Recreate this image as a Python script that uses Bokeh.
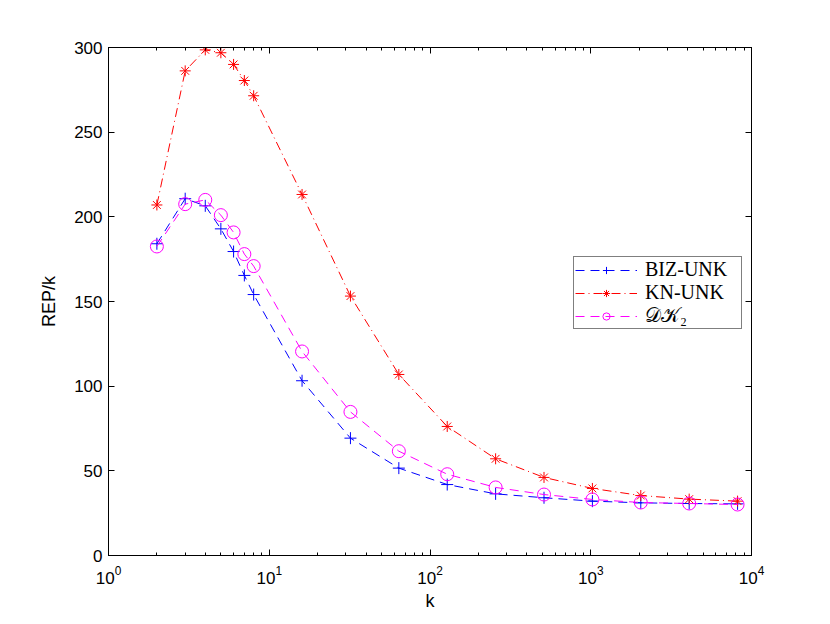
from bokeh.plotting import figure
from bokeh.models import (LogAxis, LinearAxis, FixedTicker, LogTicker, Range1d,
                          Legend, LegendItem)
from bokeh.embed import file_html
from bokeh.resources import INLINE

k = [2, 3, 4, 5, 6, 7, 8, 16, 32, 64, 128, 256, 512, 1024, 2048, 4096, 8192]
biz_unk = [184.1, 210.7, 206.5, 192.9, 179.5, 165.4, 154.1, 103.2, 69.3, 51.6,
           41.9, 36.4, 34.1, 32.1, 31.1, 30.7, 30.5]
kn_unk = [207.0, 286.2, 298.6, 296.9, 290.0, 280.5, 271.5, 213.2, 153.2, 106.9,
          76.2, 57.1, 46.1, 39.6, 35.4, 33.3, 32.1]
dk2 = [182.5, 207.5, 210.0, 201.0, 190.8, 178.0, 170.9, 120.5, 84.8, 61.6,
       48.0, 40.2, 36.0, 33.1, 31.3, 30.7, 30.1]
y_ticks = [0, 50, 100, 150, 200, 250, 300]
series_labels = ["BIZ-UNK", "KN-UNK", "\U0001D49F\U0001D4A6\u2082"]

FONT = "Liberation Sans"

p = figure(width=830, height=624, x_axis_type="log", output_backend="svg",
           toolbar_location=None, x_range=Range1d(1, 10000), y_range=Range1d(0, 300),
           min_border_left=108, min_border_right=79, min_border_top=47,
           min_border_bottom=69)
p.xgrid.visible = False
p.ygrid.visible = False
p.outline_line_color = "black"
p.outline_line_width = 1
p.background_fill_color = "white"
p.border_fill_color = "white"

# main renderers
r1l = p.line(k, biz_unk, line_color="#0000ff", line_width=1, line_dash="9 6")
r1m = p.scatter(k, biz_unk, marker="cross", size=12, line_color="#0000ff", line_width=1)
r2l = p.line(k, kn_unk, line_color="#ff0000", line_width=1, line_dash="9 4 1 4")
r2m = p.scatter(k, kn_unk, marker="asterisk", size=11, line_color="#ff0000", line_width=1)
r3l = p.line(k, dk2, line_color="#ff00ff", line_width=1, line_dash="9 6")
r3m = p.scatter(k, dk2, marker="circle", size=13, line_color="#ff00ff",
                fill_color=None, line_width=1)

def style_axis(ax, labels=True):
    ax.axis_line_color = "black"
    ax.major_tick_line_color = "black"
    ax.minor_tick_line_color = "black"
    ax.major_tick_in = 6
    ax.major_tick_out = 0
    ax.minor_tick_in = 3
    ax.minor_tick_out = 0
    ax.major_label_text_font = FONT
    ax.major_label_text_font_size = "17px"
    ax.major_label_text_color = "black"
    ax.axis_label_text_color = "black"
    if not labels:
        ax.major_label_text_font_size = "0px"
        ax.major_label_text_alpha = 0

xa = p.xaxis[0]
style_axis(xa)
xa.ticker = LogTicker(desired_num_ticks=5, num_minor_ticks=10)
xa.axis_label = "k"
xa.axis_label_text_font = FONT
xa.axis_label_text_font_size = "18px"
xa.axis_label_text_font_style = "normal"
xa.axis_label_standoff = 4
xa.major_label_standoff = 10

ya = p.yaxis[0]
style_axis(ya)
ya.ticker = FixedTicker(ticks=y_ticks)
ya.minor_tick_in = 0
ya.axis_label = "REP/k"
ya.axis_label_text_font = FONT
ya.axis_label_text_font_size = "18px"
ya.axis_label_text_font_style = "normal"
ya.axis_label_standoff = 12
ya.major_label_standoff = 6

top = LogAxis(ticker=LogTicker(desired_num_ticks=5, num_minor_ticks=10))
style_axis(top, labels=False)
p.add_layout(top, "above")

right = LinearAxis(ticker=FixedTicker(ticks=y_ticks))
style_axis(right, labels=False)
right.minor_tick_in = 0
p.add_layout(right, "right")

legend = Legend(items=[
    LegendItem(label=series_labels[0], renderers=[r1l, r1m]),
    LegendItem(label=series_labels[1], renderers=[r2l, r2m]),
    LegendItem(label=series_labels[2], renderers=[r3l, r3m]),
], location=(465, 226))
legend.label_text_font = "Liberation Serif"
legend.label_text_font_size = "20px"
legend.label_text_color = "black"
legend.label_height = 18
legend.label_width = 95
legend.glyph_height = 18
legend.glyph_width = 62
legend.label_standoff = 8
legend.spacing = 0
legend.padding = 1
legend.margin = 0
legend.border_line_color = "black"
legend.border_line_width = 1
legend.background_fill_color = "white"
legend.background_fill_alpha = 1
p.add_layout(legend, "center")

open("out.html", "w").write(file_html(p, INLINE))
